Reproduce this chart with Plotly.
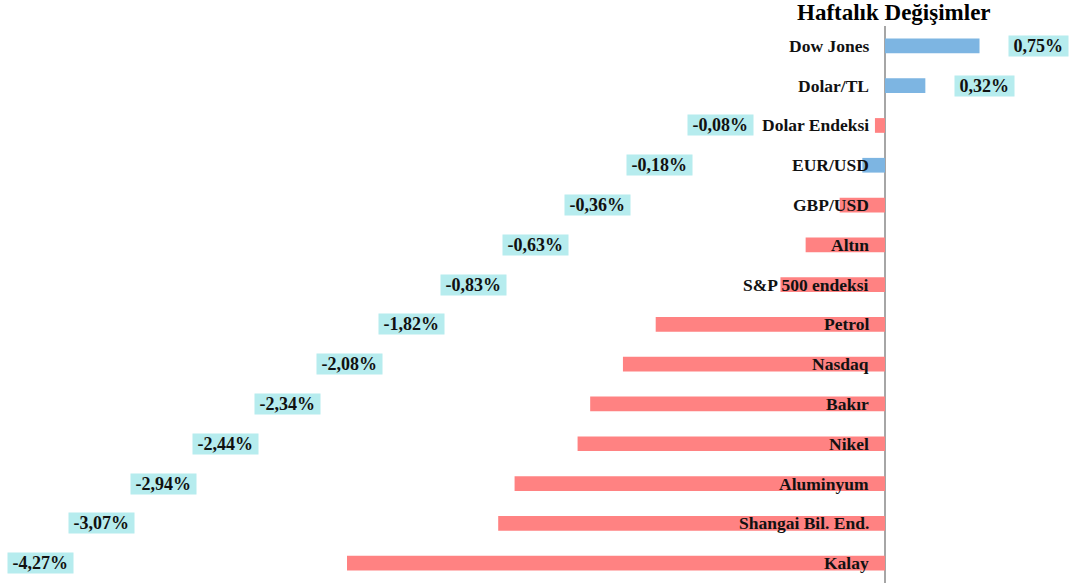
import plotly.graph_objects as go

categories = ["Dow Jones", "Dolar/TL", "Dolar Endeksi", "EUR/USD", "GBP/USD", "Altın",
              "S&P 500 endeksi", "Petrol", "Nasdaq", "Bakır", "Nikel", "Aluminyum",
              "Shangai Bil. End.", "Kalay"]
values = [0.75, 0.32, -0.08, -0.18, -0.36, -0.63, -0.83, -1.82, -2.08, -2.34, -2.44,
          -2.94, -3.07, -4.27]
value_labels = ["0,75%", "0,32%", "-0,08%", "-0,18%", "-0,36%", "-0,63%", "-0,83%",
                "-1,82%", "-2,08%", "-2,34%", "-2,44%", "-2,94%", "-3,07%", "-4,27%"]
title_text = "Haftalık Değişimler"

BLUE = "rgb(125,181,226)"
RED = "rgb(255,130,130)"
LABEL_BG = "rgb(182,236,238)"
FONT = "Liberation Serif"
blue_names = {"EUR/USD"}

colors = [BLUE if (v > 0 or c in blue_names) else RED for c, v in zip(categories, values)]

fig = go.Figure()
fig.add_trace(go.Bar(
    y=categories, x=values, orientation="h",
    marker=dict(color=colors, line=dict(width=0)),
    hoverinfo="skip",
))

annotations = []
# category labels next to the zero axis
for c in categories:
    annotations.append(dict(
        x=0, y=c, xref="x", yref="y", text=f"<b>{c}</b>", showarrow=False,
        xanchor="right", yanchor="middle", xshift=-14,
        font=dict(family=FONT, size=17.5, color="#111111"),
    ))

# value labels: positives after the bar end, negatives staggered on a diagonal
neg_rank = 0
for c, v, t in zip(categories, values, value_labels):
    if v > 0:
        x = v + 0.468
    else:
        x = -1.302 - 0.4913 * neg_rank
        neg_rank += 1
    annotations.append(dict(
        x=x, y=c, xref="x", yref="y", text=f"&nbsp;<b>{t}</b>&nbsp;", showarrow=False,
        xanchor="center", yanchor="middle", bgcolor=LABEL_BG, borderpad=0,
        font=dict(family=FONT, size=18, color="#111111"),
    ))

annotations.append(dict(
    x=0.8335, y=1.0, xref="paper", yref="paper", xanchor="center", yanchor="middle",
    showarrow=False, text=f"<b>{title_text}</b>", yshift=14,
    font=dict(family=FONT, size=23, color="#000000"),
))

fig.update_layout(
    width=1072, height=584,
    margin=dict(l=0, r=0, t=26, b=1),
    paper_bgcolor="white", plot_bgcolor="white",
    bargap=0.63,
    showlegend=False,
    annotations=annotations,
    xaxis=dict(range=[-7.024, 1.484], showgrid=False, showticklabels=False, ticks="",
               zeroline=True, zerolinecolor="#a6a6a6", zerolinewidth=1.5, fixedrange=True),
    yaxis=dict(categoryorder="array", categoryarray=categories, autorange="reversed",
               showgrid=False, showticklabels=False, ticks="", zeroline=False, fixedrange=True),
)

fig.write_html("out.html", config={"displayModeBar": False},
               post_script="document.body.style.margin='0';")
